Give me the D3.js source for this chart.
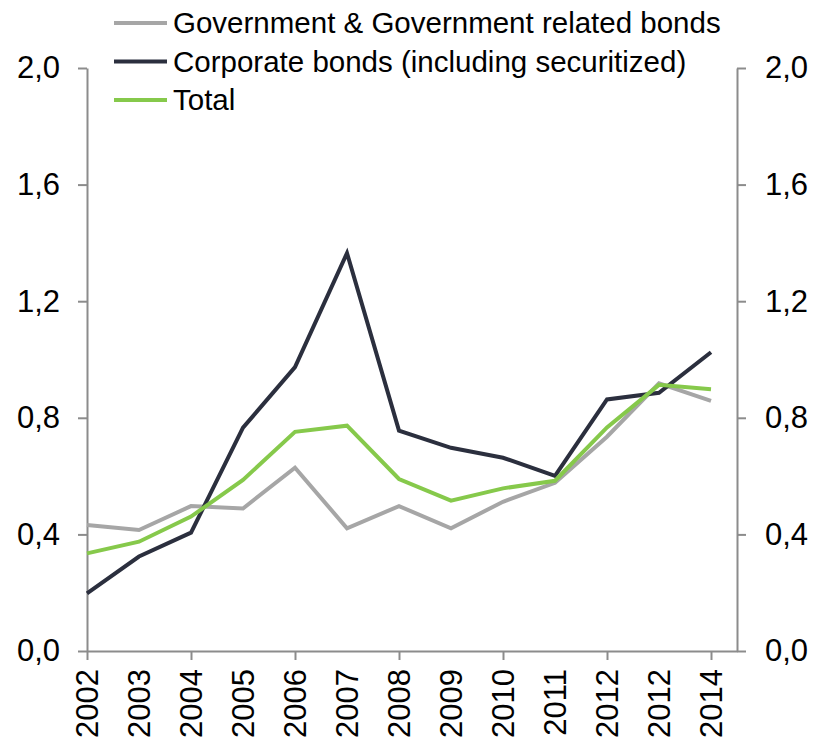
<!DOCTYPE html>
<html>
<head>
<meta charset="utf-8">
<script src="https://cdn.jsdelivr.net/npm/d3@7"></script>
<style>
  body { margin: 0; background: #fff; }
  text { font-family: 'Liberation Sans', Arial, sans-serif; fill: #000; }
</style>
</head>
<body>
<svg id="chart" width="815" height="744"></svg>
<script>
const years = ['2002', '2003', '2004', '2005', '2006', '2007', '2008', '2009', '2010', '2011', '2012', '2012', '2014']
const government = [0.432, 0.415, 0.497, 0.489, 0.629, 0.421, 0.497, 0.421, 0.512, 0.577, 0.735, 0.918, 0.858]
const corporate = [0.198, 0.324, 0.406, 0.766, 0.974, 1.365, 0.756, 0.697, 0.663, 0.601, 0.863, 0.886, 1.025]
const total = [0.335, 0.375, 0.461, 0.587, 0.752, 0.773, 0.590, 0.516, 0.558, 0.584, 0.767, 0.913, 0.898]
const yTicks = [0, 0.4, 0.8, 1.2, 1.6, 2.0]

const series = [
    { name: 'Government & Government related bonds', values: government, color: '#a6a6a6' },
    { name: 'Corporate bonds (including securitized)', values: corporate, color: '#2b2f3e' },
    { name: 'Total', values: total, color: '#86c94b' }
]

const svg = d3.select('#chart')
const tickFont = 31
const legendFont = 29.5
const axisColor = '#8c8c8c'

const x = d3.scaleLinear().domain([0, years.length - 0.5]).range([87, 737])
const y = d3.scaleLinear().domain([0, 2]).range([651, 68])
const fmt = d => d3.format('.1f')(d).replace('.', ',')

function styleAxis(g) {
    g.selectAll('path, line').attr('stroke', axisColor).attr('stroke-width', 2)
    g.selectAll('text').attr('font-size', tickFont).attr('fill', '#000')
        .attr('font-family', "'Liberation Sans', Arial, sans-serif")
}

// left axis (y)
svg.append('g')
    .attr('transform', `translate(${x(0)},0)`)
    .call(d3.axisLeft(y).tickValues(yTicks).tickFormat(fmt).tickSize(9).tickSizeOuter(0).tickPadding(18))
    .call(styleAxis)

// right axis (y)
svg.append('g')
    .attr('transform', `translate(${x.range()[1]},0)`)
    .call(d3.axisRight(y).tickValues(yTicks).tickFormat(fmt).tickSize(9).tickSizeOuter(0).tickPadding(19))
    .call(styleAxis)

// bottom axis (x), ticks on every other year
svg.append('g')
    .attr('transform', `translate(0,${y(0)})`)
    .call(d3.axisBottom(x).tickValues(d3.range(0, years.length, 2)).tickFormat('').tickSize(9).tickSizeOuter(0))
    .call(styleAxis)

// year labels, rotated
svg.append('g')
    .selectAll('text')
    .data(years)
    .join('text')
    .attr('transform', (d, i) => `translate(${x(i)},${y(0) + 18}) rotate(-90)`)
    .attr('text-anchor', 'end')
    .attr('dy', '0.35em')
    .attr('font-size', tickFont)
    .text(d => d)

const line = d3.line()
    .x((d, i) => x(i))
    .y(d => y(d))

// lines
svg.append('g')
    .selectAll('path')
    .data(series)
    .join('path')
    .attr('fill', 'none')
    .attr('stroke', d => d.color)
    .attr('stroke-width', 4)
    .attr('stroke-linejoin', 'miter')
    .attr('d', d => line(d.values))

// legend
const legend = svg.append('g')
    .selectAll('g')
    .data(series)
    .join('g')
    .attr('transform', (d, i) => `translate(114,${23 + i * 38.5})`)

legend.append('line')
    .attr('x1', 0).attr('x2', 53)
    .attr('stroke', d => d.color)
    .attr('stroke-width', 4)

legend.append('text')
    .attr('x', 59)
    .attr('dy', '0.35em')
    .attr('font-size', legendFont)
    .text(d => d.name)
</script>
</body>
</html>
